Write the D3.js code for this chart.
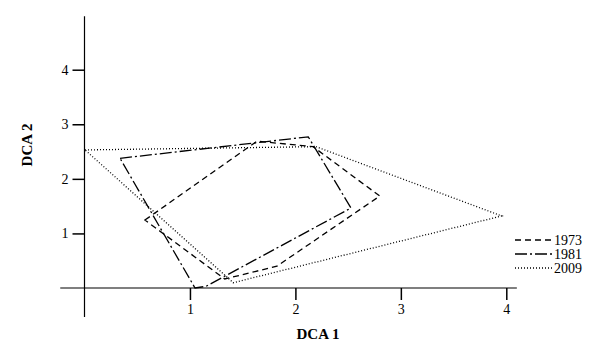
<!DOCTYPE html>
<html>
<head>
<meta charset="utf-8">
<script src="https://cdn.jsdelivr.net/npm/d3@7"></script>
<style>
  html, body { margin: 0; padding: 0; background: #fff; }
  svg { display: block; }
  text { font-family: "Liberation Serif", "DejaVu Serif", serif; fill: #000; }
</style>
</head>
<body>
<svg id="chart" width="613" height="362"></svg>
<script>
// ---- data ----
const seriesNames = ["1973", "1981", "2009"];
const x1973 = [0.573, 1.636, 2.167, 2.80, 1.825, 1.33];
const y1973 = [1.245, 2.69, 2.59, 1.685, 0.40, 0.165];
const x1981 = [0.337, 2.122, 2.527, 1.152, 1.048];
const y1981 = [2.376, 2.77, 1.466, 0.03, 0.0];
const x2009 = [0.005, 2.195, 3.956, 1.41];
const y2009 = [2.53, 2.59, 1.32, 0.097];
const xTicks = [1, 2, 3, 4];
const yTicks = [1, 2, 3, 4];
const xTitle = "DCA 1";
const yTitle = "DCA 2";

const series = [
  {name: seriesNames[0], xs: x1973, ys: y1973, dash: "6,4"},
  {name: seriesNames[1], xs: x1981, ys: y1981, dash: "12,3,2,3"},
  {name: seriesNames[2], xs: x2009, ys: y2009, dash: "1,2"}
];

const svg = d3.select("#chart");
const x = d3.scaleLinear().domain([0, 4]).range([84.5, 506.3]);
const y = d3.scaleLinear().domain([0, 4]).range([288, 69.7]);

// axes
const gx = svg.append("g").attr("transform", `translate(0,${y(0)})`)
  .call(d3.axisBottom(x).tickValues(xTicks).tickSize(12).tickPadding(4).tickFormat(d3.format("d")));
gx.select(".domain").remove();
const gy = svg.append("g").attr("transform", `translate(${x(0)},0)`)
  .call(d3.axisLeft(y).tickValues(yTicks).tickSize(12).tickPadding(4).tickFormat(d3.format("d")));
gy.select(".domain").remove();
svg.selectAll(".tick line").attr("stroke", "#000").attr("stroke-width", 1.5);
svg.selectAll(".tick text").attr("font-size", 14).attr("font-family", "Liberation Serif");

// axis lines (extend beyond origin)
svg.append("line").attr("x1", x(-0.23)).attr("x2", x(4.1)).attr("y1", y(0)).attr("y2", y(0))
  .attr("stroke", "#000").attr("stroke-width", 1.2);
svg.append("line").attr("x1", x(0)).attr("x2", x(0)).attr("y1", y(-0.53)).attr("y2", y(4.98))
  .attr("stroke", "#000").attr("stroke-width", 1.2);

// titles
svg.append("text").attr("x", 318).attr("y", 339).attr("text-anchor", "middle")
  .attr("font-size", 15).attr("font-weight", "bold").text(xTitle);
svg.append("text").attr("transform", "translate(32,145) rotate(-90)").attr("text-anchor", "middle")
  .attr("font-size", 15).attr("font-weight", "bold").text(yTitle);

// polygons
const line = d3.line().x(d => x(d[0])).y(d => y(d[1])).curve(d3.curveLinearClosed);
series.forEach(s => {
  const pts = s.xs.map((v, i) => [v, s.ys[i]]);
  svg.append("path").attr("d", line(pts)).attr("fill", "none")
    .attr("stroke", "#000").attr("stroke-width", 1.3).attr("stroke-dasharray", s.dash);
});

// legend
const lg = svg.append("g");
series.forEach((s, i) => {
  const yy = 240 + i * 14;
  lg.append("line").attr("x1", 515).attr("x2", 552).attr("y1", yy).attr("y2", yy)
    .attr("stroke", "#000").attr("stroke-width", 1.3).attr("stroke-dasharray", s.dash);
  lg.append("text").attr("x", 554).attr("y", yy + 4.5).attr("font-size", 14).text(s.name);
});
</script>
</body>
</html>
